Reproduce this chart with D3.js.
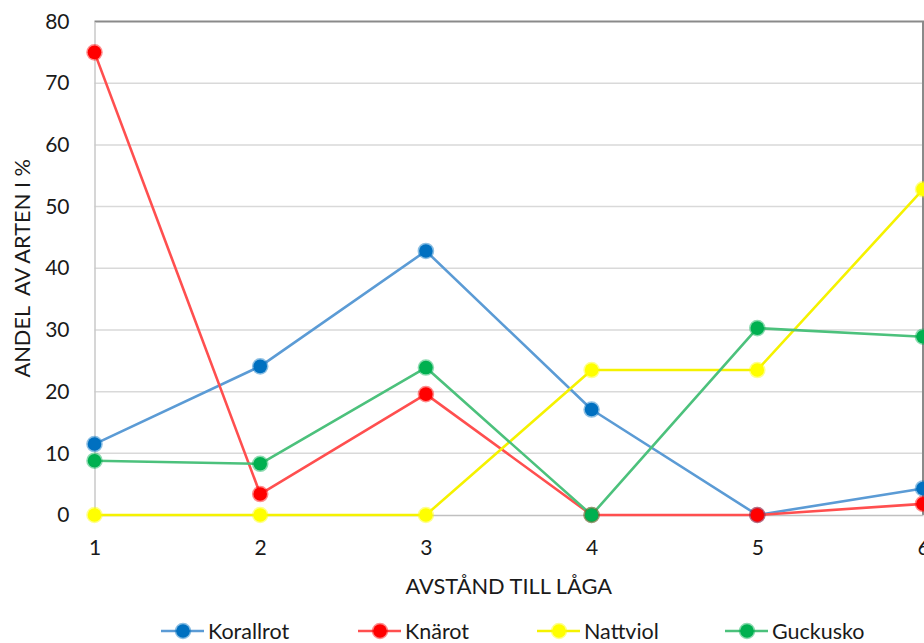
<!DOCTYPE html>
<html>
<head>
<meta charset="utf-8">
<script src="https://cdn.jsdelivr.net/npm/d3@7"></script>
<style>
  html, body { margin: 0; padding: 0; background: #fff; overflow: hidden; }
  svg { display: block; }
  text { font-family: Lato, "Open Sans", sans-serif; fill: #1a1a1a; }
</style>
</head>
<body>
<svg id="chart" width="924" height="643"></svg>
<script>
// Distance classes to the log (x axis) and the share of each species per class
const distances = [1, 2, 3, 4, 5, 6];
const species = ["Korallrot", "Knärot", "Nattviol", "Guckusko"];
const korallrot = [11.5, 24.1, 42.8, 17.1, 0, 4.3];
const knarot    = [75.0, 3.4, 19.6, 0, 0, 1.8];
const nattviol  = [0, 0, 0, 23.5, 23.5, 52.8];
const guckusko  = [8.8, 8.3, 23.9, 0, 30.3, 28.9];
const yTicks = [0, 10, 20, 30, 40, 50, 60, 70, 80];
const xTitle = "AVSTÅND TILL LÅGA";
const yTitle = "ANDEL  AV ARTEN I %";

const seriesValues = [korallrot, knarot, nattviol, guckusko];
const lineColors   = ["#5B9BD5", "#FF4F4F", "#F5F200", "#4CC17C"];
const markColors   = ["#0070C0", "#FF0000", "#FFFF00", "#00B050"];

const svg = d3.select("#chart");
const plotL = 94.5, plotR = 923, plotT = 21.5, plotB = 515;

const x = d3.scaleLinear().domain([1, 6]).range([plotL, plotR]);
const y = d3.scaleLinear().domain([0, 80]).range([plotB, plotT]);

// horizontal gridlines
svg.append("g")
  .selectAll("line")
  .data(yTicks.filter(t => t > 0 && t < 80))
  .join("line")
  .attr("x1", plotL).attr("x2", plotR)
  .attr("y1", d => y(d)).attr("y2", d => y(d))
  .attr("stroke", "#d9d9d9").attr("stroke-width", 1.5);

// plot frame: darker top and right edges
svg.append("path")
  .attr("d", `M${plotL},${plotT}H${plotR}V${plotB}`)
  .attr("fill", "none").attr("stroke", "#8a8a8a").attr("stroke-width", 2);

// y axis
const yAxis = svg.append("g")
  .attr("transform", `translate(${plotL},0)`)
  .call(d3.axisLeft(y).tickValues(yTicks).tickSize(0).tickPadding(25));
yAxis.select(".domain").attr("stroke", "#c8c8c8").attr("stroke-width", 1.5);
yAxis.selectAll("text").style("font-size", "21px").attr("fill", "#1a1a1a")
  .style("font-family", "Lato, 'Open Sans', sans-serif");

// x axis
const xAxis = svg.append("g")
  .attr("transform", `translate(0,${plotB})`)
  .call(d3.axisBottom(x).tickValues(distances).tickFormat(d3.format("d")).tickSize(0).tickPadding(25));
xAxis.select(".domain").attr("stroke", "#c0c0c0").attr("stroke-width", 1.5);
xAxis.selectAll("text").style("font-size", "21px").attr("fill", "#1a1a1a")
  .style("font-family", "Lato, 'Open Sans', sans-serif");

// axis titles
svg.append("text")
  .attr("x", (plotL + plotR) / 2).attr("y", 594)
  .attr("text-anchor", "middle")
  .style("font-size", "21.8px")
  .text(xTitle);

svg.append("text")
  .attr("transform", `translate(30,${(plotT + plotB) / 2}) rotate(-90)`)
  .attr("text-anchor", "middle")
  .style("font-size", "21.8px")
  .style("white-space", "pre")
  .text(yTitle);

// series lines then markers
const line = d3.line().x((d, i) => x(distances[i])).y(d => y(d));

seriesValues.forEach((vals, s) => {
  svg.append("path")
    .datum(vals)
    .attr("d", line)
    .attr("fill", "none")
    .attr("stroke", lineColors[s])
    .attr("stroke-width", 2.6)
    .attr("stroke-linejoin", "round");
});

seriesValues.forEach((vals, s) => {
  svg.append("g")
    .selectAll("circle")
    .data(vals)
    .join("circle")
    .attr("cx", (d, i) => x(distances[i]))
    .attr("cy", d => y(d))
    .attr("r", 6.8)
    .attr("fill", markColors[s])
    .attr("stroke", markColors[s])
    .attr("stroke-opacity", 0.45)
    .attr("stroke-width", 3);
});

// legend
const legendX = [183, 380, 559, 747];
const legendY = 631;
const legend = svg.append("g");
species.forEach((name, s) => {
  const g = legend.append("g").attr("transform", `translate(${legendX[s]},${legendY})`);
  g.append("line").attr("x1", -22).attr("x2", 21)
    .attr("stroke", lineColors[s]).attr("stroke-width", 2.6);
  g.append("circle").attr("r", 6.8)
    .attr("fill", markColors[s]).attr("stroke", markColors[s])
    .attr("stroke-opacity", 0.45).attr("stroke-width", 3);
  g.append("text").attr("x", 25).attr("y", 7.5)
    .style("font-size", "21.5px")
    .text(name);
});
</script>
</body>
</html>
